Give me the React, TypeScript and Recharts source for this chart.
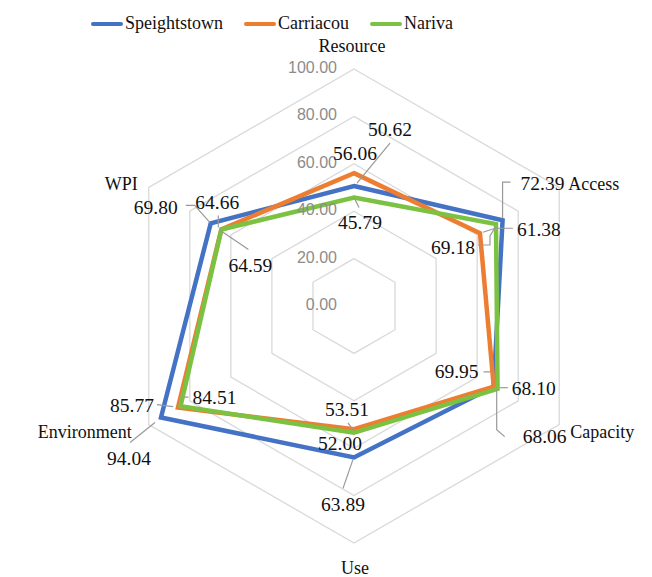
import { RadarChart, Radar, PolarGrid, PolarAngleAxis, PolarRadiusAxis, Legend } from "recharts";

const axes = ["Resource", "Access", "Capacity", "Use", "Environment", "WPI"];
const speightstown = [50.62, 72.39, 68.06, 63.89, 94.04, 69.8];
const carriacou = [56.06, 61.38, 68.1, 52.0, 85.77, 64.66];
const nariva = [45.79, 69.18, 69.95, 53.51, 84.51, 64.59];
const radiusTicks = [0, 20, 40, 60, 80, 100];

const data = axes.map((axis, i) => ({
	axis,
	Speightstown: speightstown[i],
	Carriacou: carriacou[i],
	Nariva: nariva[i],
}));

const serif = "Liberation Serif";

const series = [
	{ key: "Speightstown", color: "#4472C4" },
	{ key: "Carriacou", color: "#ED7D31" },
	{ key: "Nariva", color: "#7CC242" },
];

// label placement per series, per axis: offset from point, anchor, leader polyline
type Place = { dx: number; dy: number; anchor: "start" | "middle" | "end"; lead?: number[][] };

const placements: Record<string, Place[]> = {
	Speightstown: [
		{ dx: 36, dy: -57, anchor: "middle", lead: [[3, -3], [36, -43]] },
		{ dx: 18, dy: -37, anchor: "start", lead: [[0, -2], [0, -38], [8, -38]] },
		{ dx: 29, dy: 50, anchor: "start", lead: [[3, 3], [3, 43], [11, 50]] },
		{ dx: -11, dy: 47, anchor: "middle", lead: [[-1, 2], [-11, 31]] },
		{ dx: -32, dy: 41, anchor: "middle", lead: [[-6, 5], [-31, 25]] },
		{ dx: -33, dy: -16, anchor: "end", lead: [[-1, -1], [-16, -18], [-25, -18]] },
	],
	Carriacou: [
		{ dx: 1, dy: -20, anchor: "middle" },
		{ dx: 37, dy: -4, anchor: "start", lead: [[3, -1], [15, -5], [33, -5]] },
		{ dx: 18, dy: 2, anchor: "start", lead: [[6, 1], [14, 1]] },
		{ dx: -14, dy: 14, anchor: "middle" },
		{ dx: -24, dy: -2, anchor: "end", lead: [[-5, -1], [-21, -3]] },
		{ dx: -4, dy: -27, anchor: "middle", lead: [[-3, -2], [-3, -14]] },
	],
	Nariva: [
		{ dx: 6, dy: 25, anchor: "middle", lead: [[1, 2], [5, 10]] },
		{ dx: -21, dy: 23, anchor: "end", lead: [[0, 2], [-6, 12], [-6, 21], [-18, 21]] },
		{ dx: -19, dy: -17, anchor: "end", lead: [[-4, -3], [-4, -17], [-14, -17]] },
		{ dx: -7, dy: -23, anchor: "middle", lead: [[-1, -3], [-6, -10]] },
		{ dx: 12, dy: -9, anchor: "start", lead: [[1, -3], [1, -9], [8, -9]] },
		{ dx: 29, dy: 36, anchor: "middle", lead: [[-1, 1], [27, 20]] },
	],
};

const angleLabelOffsets = [
	[-2, -9, "middle"],
	[2, 6, "start"],
	[4, 9.5, "start"],
	[1, 23, "middle"],
	[-10, 9.5, "end"],
	[-4, 6, "end"],
] as const;

function makeLabel(name: string) {
	return (props: any) => {
		const { cx, cy, index, payload } = props;
		const p = placements[name][index];
		const value = payload?.value ?? data[index][name as keyof (typeof data)[0]];
		return (
			<g key={`${name}-${index}`}>
				{p.lead && (
					<polyline
						points={p.lead.map(([x, y]) => `${cx + x},${cy + y}`).join(" ")}
						fill="none"
						stroke="#999999"
						strokeWidth={1.2}
					/>
				)}
				<text
					x={cx + p.dx}
					y={cy + p.dy + 6.5}
					textAnchor={p.anchor}
					fontFamily={serif}
					fontSize={19.5}
					fill="#111111"
				>
					{Number(value).toFixed(2)}
				</text>
			</g>
		);
	};
}

function AngleTick(props: any) {
	const { x, y, payload, index } = props;
	const [dx, dy, anchor] = angleLabelOffsets[index];
	return (
		<text x={x + dx} y={y + dy} textAnchor={anchor} fontFamily={serif} fontSize={18} fill="#111111">
			{payload.value}
		</text>
	);
}

function RadiusTick(props: any) {
	const { x, y, payload } = props;
	return (
		<text x={x - 17} y={y + 4} textAnchor="end" fontFamily="Liberation Sans" fontSize={16} fill="#8c8c8c">
			{Number(payload.value).toFixed(2)}
		</text>
	);
}

function LegendContent() {
	return (
		<div style={{ display: "flex", alignItems: "center", fontFamily: serif, fontSize: 18, color: "#111" }}>
			{series.map((s, i) => (
				<div key={s.key} style={{ display: "flex", alignItems: "center", marginLeft: i === 0 ? 0 : 21 }}>
					<div style={{ width: 32, height: 4, background: s.color, marginRight: 2, borderRadius: 2 }} />
					<span>{s.key}</span>
				</div>
			))}
		</div>
	);
}

export default function App() {
	return (
		<div style={{ position: "absolute", left: 0, top: 0, width: 652, height: 577, background: "#fff" }}>
			<RadarChart width={652} height={577} data={data} cx={354} cy={306} outerRadius={237}>
				<PolarGrid gridType="polygon" radialLines={false} stroke="#d9d9d9" strokeWidth={1.3} />
				<PolarAngleAxis dataKey="axis" tick={<AngleTick />} tickLine={false} axisLine={false} />
				<PolarRadiusAxis
					angle={90}
					domain={[0, 100]}
					ticks={radiusTicks}
					tick={<RadiusTick />}
					axisLine={false}
					tickLine={false}
				/>
				{series.map((s) => (
					<Radar
						key={s.key}
						name={s.key}
						dataKey={s.key}
						stroke={s.color}
						strokeWidth={4.5}
						strokeLinejoin="miter"
						fill="none"
						fillOpacity={0}
						dot={makeLabel(s.key)}
						isAnimationActive={false}
					/>
				))}
				<Legend
					content={<LegendContent />}
					wrapperStyle={{ position: "absolute", top: 13, left: 91, width: 400 }}
				/>
			</RadarChart>
		</div>
	);
}
